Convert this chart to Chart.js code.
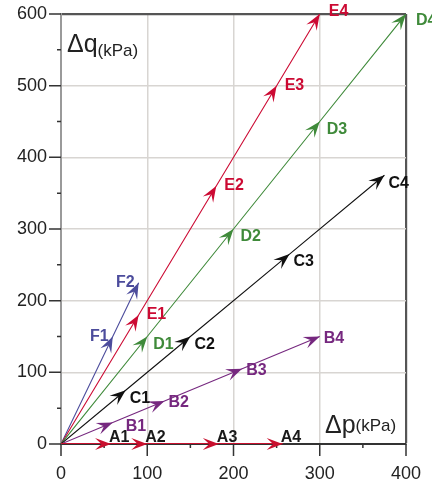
<!DOCTYPE html>
<html>
<head>
<meta charset="utf-8">
<script src="https://cdn.jsdelivr.net/npm/chart.js@4.4.0/dist/chart.umd.min.js"></script>
<style>
html, body { margin: 0; padding: 0; background: #fff; }
</style>
</head>
<body>
<canvas id="chart" width="432" height="486"></canvas>
<script>
// Stress paths: Δp (kPa) against Δq (kPa), each path starts at the origin
const pathNames = ['A', 'B', 'C', 'D', 'E', 'F'];
const pathA = [[0, 0], [58, 0], [100, 0], [183, 0], [257, 0]];
const pathB = [[0, 0], [60, 30], [120, 60], [210, 105], [300, 150]];
const pathC = [[0, 0], [75, 75], [150, 150], [265, 265], [375, 375]];
const pathD = [[0, 0], [100, 150], [200, 300], [300, 450], [400, 600]];
const pathE = [[0, 0], [90, 180], [180, 360], [250, 500], [300, 600]];
const pathF = [[0, 0], [60, 150], [90, 225]];
const xTicks = [0, 100, 200, 300, 400];
const yTicks = [0, 100, 200, 300, 400, 500, 600];

const FONT = '"Liberation Sans", Arial, sans-serif';

// Colours per path
const pathColors = {
    A: '#c8102e',
    B: '#76287f',
    C: '#111111',
    D: '#3f8a3a',
    E: '#cc0a33',
    F: '#4c4c9c'
};
const labelColors = {
    A: '#1a1a1a',
    B: '#76287f',
    C: '#111111',
    D: '#3f8a3a',
    E: '#cc0a33',
    F: '#4c4c9c'
};

// label offsets from the arrow tip (pixels)
const labelOffset = {
    A: [-2, -6, 'left'],
    B: [4, 2, 'left'],
    C: [4, 8, 'left'],
    D: [7, 8, 'left'],
    E: [8, 0, 'left'],
    F: [-4, 0, 'right']
};
const labelOverride = {
    B1: [13, 4, 'left'],
    E4: [9, -2, 'left'],
    D4: [10, 7, 'left'],
    D1: [6, 8, 'left']
};

const allPaths = [pathA, pathB, pathC, pathD, pathE, pathF];

const datasets = allPaths.map(function(path, i) {
    const name = pathNames[i];
    return {
        label: name,
        data: path.map(function(p) { return { x: p[0], y: p[1] }; }),
        showLine: true,
        borderColor: pathColors[name],
        backgroundColor: pathColors[name],
        borderWidth: name === 'A' ? 2 : 1.1,
        pointRadius: 0,
        tension: 0
    };
});

function drawArrow(ctx, x0, y0, x1, y1, color) {
    const ang = Math.atan2(y1 - y0, x1 - x0);
    const L = 16, W = 6;
    ctx.save();
    ctx.translate(x1, y1);
    ctx.rotate(ang);
    ctx.beginPath();
    ctx.moveTo(0, 0);
    ctx.lineTo(-L, -W);
    ctx.lineTo(-L * 0.6, 0);
    ctx.lineTo(-L, W);
    ctx.closePath();
    ctx.fillStyle = color;
    ctx.fill();
    ctx.restore();
}

const decorPlugin = {
    id: 'decor',
    afterDatasetsDraw: function(chart) {
        const ctx = chart.ctx;
        const xs = chart.scales.x, ys = chart.scales.y;
        const area = chart.chartArea;

        // tick marks (major + minor)
        ctx.save();
        ctx.strokeStyle = '#333';
        ctx.lineWidth = 1.5;
        ctx.beginPath();
        for (let v = 0; v <= 400; v += 50) {
            const px = xs.getPixelForValue(v);
            const len = v % 100 === 0 ? 12 : 4;
            ctx.moveTo(px, area.bottom);
            ctx.lineTo(px, area.bottom + len);
        }
        for (let v = 0; v <= 600; v += 50) {
            const py = ys.getPixelForValue(v);
            const len = v % 100 === 0 ? 12 : 4;
            ctx.moveTo(area.left, py);
            ctx.lineTo(area.left - len, py);
        }
        ctx.stroke();
        ctx.restore();

        // arrows and labels
        chart.data.datasets.forEach(function(ds, di) {
            const meta = chart.getDatasetMeta(di);
            const name = ds.label;
            for (let i = 1; i < meta.data.length; i++) {
                const p0 = meta.data[i - 1], p1 = meta.data[i];
                drawArrow(ctx, p0.x, p0.y, p1.x, p1.y, pathColors[name]);
                const tag = name + i;
                const off = labelOverride[tag] || labelOffset[name];
                ctx.save();
                ctx.font = 'bold 16px ' + FONT;
                ctx.fillStyle = labelColors[name];
                ctx.textAlign = off[2];
                ctx.textBaseline = 'middle';
                ctx.fillText(tag, p1.x + off[0], p1.y + off[1]);
                ctx.restore();
            }
        });

        // axis titles
        ctx.save();
        ctx.fillStyle = '#222';
        ctx.textBaseline = 'alphabetic';
        ctx.textAlign = 'left';
        ctx.font = '25px ' + FONT;
        ctx.fillText('\u0394q', area.left + 6, 52);
        let w = ctx.measureText('\u0394q').width;
        ctx.font = '17px ' + FONT;
        ctx.fillText('(kPa)', area.left + 6 + w, 56);

        ctx.font = '25px ' + FONT;
        ctx.fillText('\u0394p', 325, 433);
        w = ctx.measureText('\u0394p').width;
        ctx.font = '17px ' + FONT;
        ctx.fillText('(kPa)', 325 + w, 431);
        ctx.restore();
    }
};

function gridColor(edgeValue) {
    return function(c) {
        const v = c.tick ? c.tick.value : null;
        if (v === 0) return 'rgba(0,0,0,0)';
        if (v === edgeValue) return '#555';
        return '#d8d5d2';
    };
}
function gridWidth(edgeValue) {
    return function(c) {
        const v = c.tick ? c.tick.value : null;
        return v === edgeValue ? 2.2 : 1.5;
    };
}

new Chart(document.getElementById('chart'), {
    type: 'scatter',
    data: { datasets: datasets },
    options: {
        responsive: false,
        animation: false,
        layout: { padding: { top: 14, right: 26, left: 0, bottom: 0 } },
        scales: {
            x: {
                type: 'linear',
                min: xTicks[0],
                max: xTicks[xTicks.length - 1],
                afterBuildTicks: function(scale) {
                    scale.ticks = xTicks.map(function(v) { return { value: v }; });
                },
                afterFit: function(scale) {
                    scale.height = 42;
                    scale.paddingLeft = 0;
                    scale.paddingRight = 0;
                },
                ticks: {
                    font: { family: FONT, size: 18 },
                    color: '#222',
                    padding: 19,
                    maxRotation: 0
                },
                grid: {
                    drawTicks: false,
                    color: gridColor(400),
                    lineWidth: gridWidth(400)
                },
                border: { display: true, color: '#333', width: 2 }
            },
            y: {
                type: 'linear',
                min: yTicks[0],
                max: yTicks[yTicks.length - 1],
                afterBuildTicks: function(scale) {
                    scale.ticks = yTicks.map(function(v) { return { value: v }; });
                },
                afterFit: function(scale) {
                    scale.width = 61;
                    scale.paddingTop = 0;
                    scale.paddingBottom = 0;
                },
                ticks: {
                    font: { family: FONT, size: 18 },
                    color: '#222',
                    padding: 14
                },
                grid: {
                    drawTicks: false,
                    color: gridColor(600),
                    lineWidth: gridWidth(600)
                },
                border: { display: true, color: '#9a9a9a', width: 2 }
            }
        },
        plugins: {
            legend: { display: false },
            tooltip: { enabled: false }
        }
    },
    plugins: [decorPlugin]
});
</script>
</body>
</html>
